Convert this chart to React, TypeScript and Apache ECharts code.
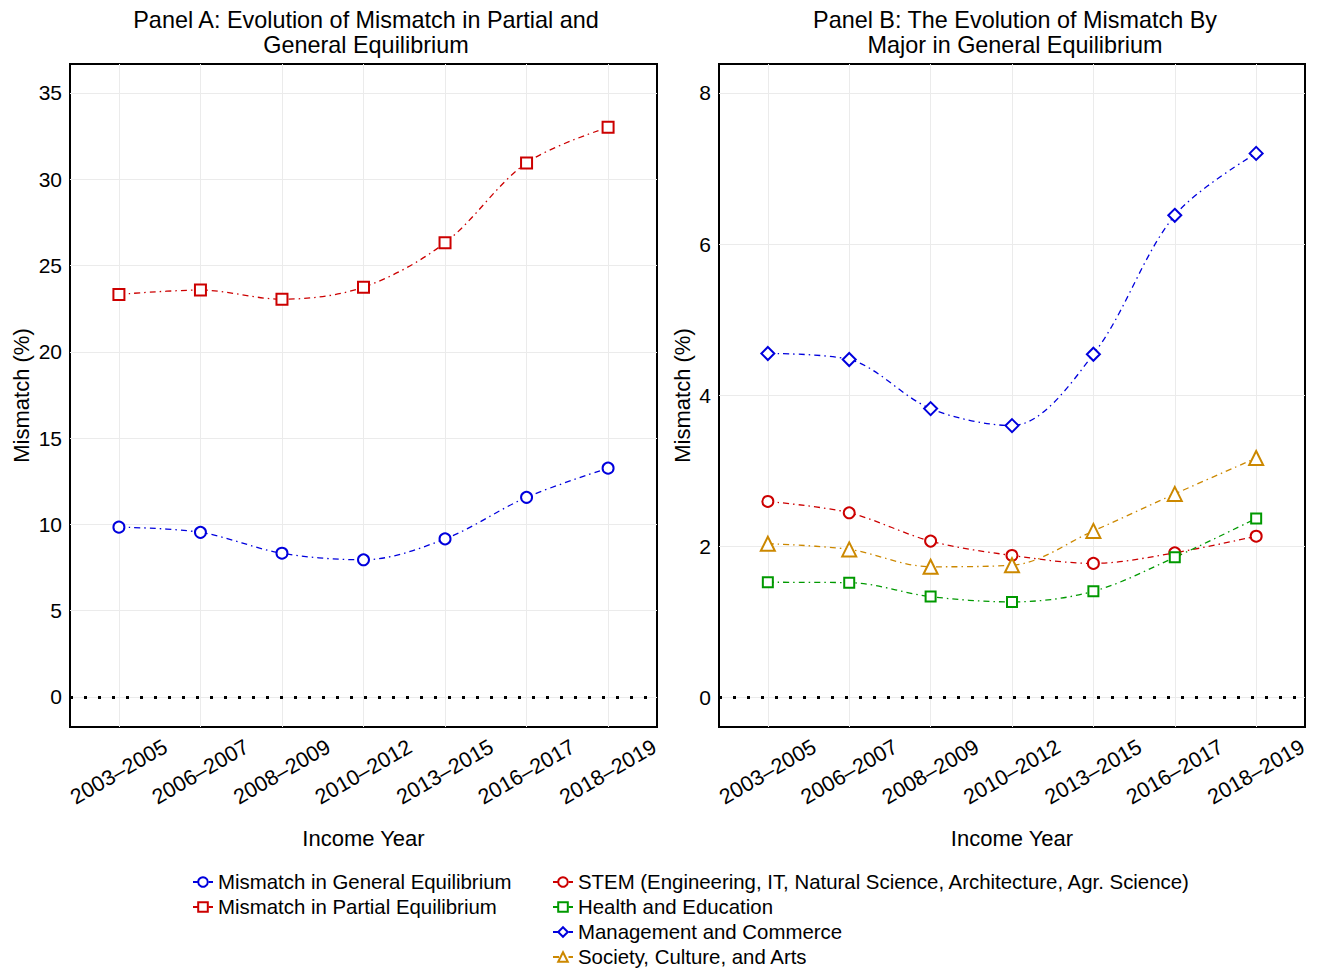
import React, { useEffect, useRef } from "react";
import * as echarts from "echarts";

const categories = ["2003–2005", "2006–2007", "2008–2009", "2010–2012", "2013–2015", "2016–2017", "2018–2019"];
const tickIdx = [0, 1, 2, 3, 4, 5, 6];

const generalEq = [9.84, 9.54, 8.33, 7.95, 9.16, 11.57, 13.26];
const partialEq = [23.33, 23.58, 23.05, 23.75, 26.32, 30.95, 33.01];

const stem = [2.59, 2.44, 2.065, 1.875, 1.77, 1.91, 2.13];
const health = [1.52, 1.515, 1.33, 1.26, 1.4, 1.85, 2.365];
const management = [4.55, 4.47, 3.82, 3.595, 4.54, 6.38, 7.2];
const society = [2.03, 1.955, 1.725, 1.745, 2.2, 2.69, 3.165];

const yTicksA = [0, 5, 10, 15, 20, 25, 30, 35];
const yTicksB = [0, 2, 4, 6, 8];

const FONT = "'Liberation Sans', Arial, Helvetica, sans-serif";
const BLUE = "#0000DD";
const RED = "#CC0000";
const GREEN = "#009900";
const ORANGE = "#CC8800";
const DASH = [6, 4, 1.5, 4];

function toPts(vals: number[]) {
  return vals.map((v, i) => [i, v]);
}

function xAxis(gi: number) {
  return {
    type: "value",
    gridIndex: gi,
    min: -0.6,
    max: 6.6,
    axisLine: { show: false },
    axisTick: { show: false, customValues: tickIdx },
    axisLabel: {
      customValues: tickIdx,
      formatter: (v: number) => categories[Math.round(v)] ?? "",
      rotate: 30,
      align: "center",
      verticalAlign: "middle",
      margin: 45,
      fontSize: 21.5,
      color: "#000",
      fontFamily: FONT,
    },
    splitLine: { show: true, lineStyle: { color: "#EBEBEB", width: 1 } },
    name: "Income Year",
    nameLocation: "middle",
    nameGap: 100,
    nameTextStyle: { fontSize: 22, color: "#000", fontFamily: FONT },
  };
}

function yAxis(gi: number, min: number, max: number, ticks: number[], gap: number) {
  return {
    type: "value",
    gridIndex: gi,
    min,
    max,
    axisLine: { show: false },
    axisTick: { show: false, customValues: ticks },
    axisLabel: { customValues: ticks, fontSize: 21, color: "#000", fontFamily: FONT, margin: 8 },
    splitLine: { show: true, lineStyle: { color: "#EBEBEB", width: 1 } },
    name: "Mismatch (%)",
    nameLocation: "middle",
    nameGap: gap,
    nameTextStyle: { fontSize: 22, color: "#000", fontFamily: FONT },
  };
}

const zeroLine = {
  silent: true,
  symbol: ["none", "none"],
  label: { show: false },
  lineStyle: { color: "#000", type: [3, 11], width: 3 },
  data: [{ yAxis: 0 }],
};

function line(name: string, vals: number[], color: string, symbol: string, size: number, gi: number, withZero = false) {
  const s: any = {
    name,
    type: "line",
    xAxisIndex: gi,
    yAxisIndex: gi,
    data: toPts(vals),
    smooth: 0.33,
    symbol,
    symbolSize: size,
    lineStyle: { color, width: 1.3, type: DASH },
    itemStyle: { color, borderColor: color, borderWidth: 2 },
    emphasis: { disabled: true },
  };
  if (withZero) s.markLine = zeroLine;
  return s;
}

export default function App() {
  const ref = useRef<HTMLDivElement>(null);
  useEffect(() => {
    if (!ref.current) return;
    const chart = echarts.init(ref.current, undefined, { renderer: "svg" });
    const legendText = { fontSize: 20.4, color: "#000", fontFamily: FONT, lineHeight: 20 };
    const option: any = {
      animation: false,
      backgroundColor: "#fff",
      textStyle: { fontFamily: FONT },
      title: [
        {
          text: "Panel A: Evolution of Mismatch in Partial and\nGeneral Equilibrium",
          left: 361,
          top: 2,
          textAlign: "center",
          textStyle: { fontSize: 23.4, fontWeight: "normal", color: "#000", lineHeight: 25, fontFamily: FONT },
        },
        {
          text: "Panel B: The Evolution of Mismatch By\nMajor in General Equilibrium",
          left: 1010,
          top: 2,
          textAlign: "center",
          textStyle: { fontSize: 23.4, fontWeight: "normal", color: "#000", lineHeight: 25, fontFamily: FONT },
        },
      ],
      grid: [
        { left: 70, top: 64, width: 587, height: 663, show: true, borderColor: "#000", borderWidth: 2, backgroundColor: "transparent", outerBoundsMode: "none" },
        { left: 719, top: 64, width: 586, height: 663, show: true, borderColor: "#000", borderWidth: 2, backgroundColor: "transparent", outerBoundsMode: "none" },
      ],
      xAxis: [xAxis(0), xAxis(1)],
      yAxis: [yAxis(0, -1.74, 36.68, yTicksA, 38), yAxis(1, -0.397, 8.384, yTicksB, 26)],
      legend: [
        {
          orient: "vertical",
          left: 192,
          top: 872,
          padding: 0,
          itemWidth: 20,
          itemHeight: 12,
          itemGap: 5,
          selectedMode: false,
          textStyle: legendText,
          data: ["Mismatch in General Equilibrium", "Mismatch in Partial Equilibrium"],
        },
        {
          orient: "vertical",
          left: 552,
          top: 872,
          padding: 0,
          itemWidth: 20,
          itemHeight: 12,
          itemGap: 5,
          selectedMode: false,
          textStyle: legendText,
          data: [
            "STEM (Engineering, IT, Natural Science, Architecture, Agr. Science)",
            "Health and Education",
            "Management and Commerce",
            "Society, Culture, and Arts",
          ],
        },
      ],
      series: [
        line("Mismatch in General Equilibrium", generalEq, BLUE, "emptyCircle", 11, 0, true),
        line("Mismatch in Partial Equilibrium", partialEq, RED, "emptyRect", 11, 0),
        line("STEM (Engineering, IT, Natural Science, Architecture, Agr. Science)", stem, RED, "emptyCircle", 11, 1, true),
        line("Health and Education", health, GREEN, "emptyRect", 10, 1),
        line("Management and Commerce", management, BLUE, "emptyDiamond", 13, 1),
        line("Society, Culture, and Arts", society, ORANGE, "emptyTriangle", 14, 1),
      ],
    };
    chart.setOption(option);
    return () => chart.dispose();
  }, []);
  return <div ref={ref} style={{ position: "fixed", left: 0, top: 0, width: 1317, height: 968 }} />;
}
